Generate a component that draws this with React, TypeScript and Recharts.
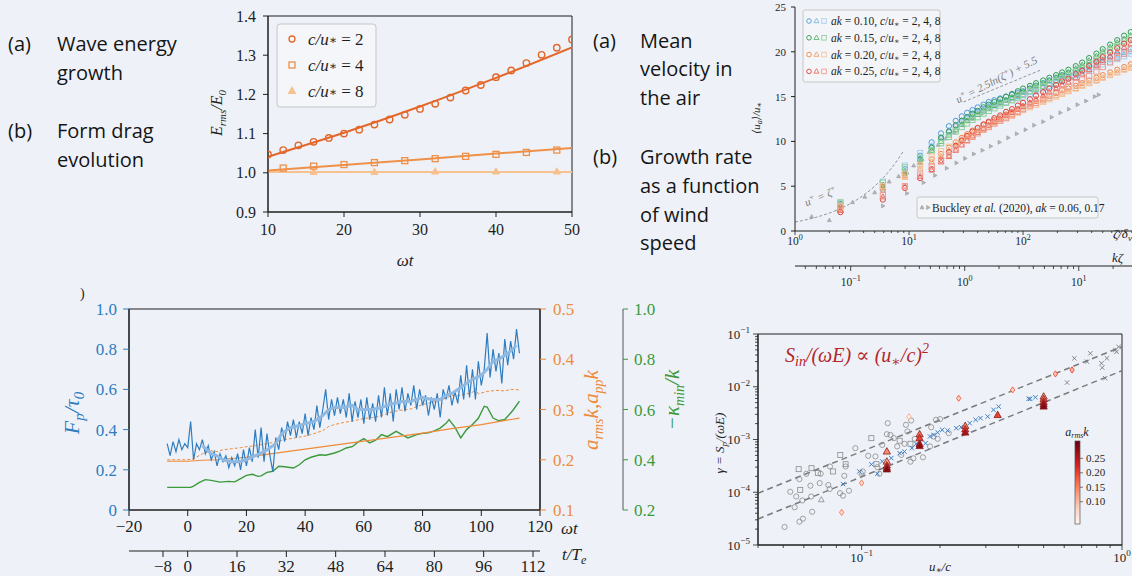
import React from 'react';
import { ComposedChart, Line, Scatter, XAxis, YAxis, ReferenceArea } from 'recharts';

const SERIF = '"Liberation Serif", "DejaVu Serif", serif';
const SANS = '"Open Sans", "Noto Sans", sans-serif';
const BG = '#eef2f8';
const INK = '#1e1e1e';

// ============================================
// (a) wave energy growth, E_rms/E_0 vs wt
// ============================================

const energyT2 = [10, 12, 14, 16, 18, 20, 22, 24, 26, 28, 30, 32, 34, 36, 38, 40, 42, 44, 46, 48, 50];
const energy2 = [1.047, 1.058, 1.07, 1.079, 1.089, 1.1, 1.11, 1.123, 1.136, 1.148, 1.163, 1.176, 1.192, 1.21, 1.224, 1.244, 1.261, 1.28, 1.301, 1.319, 1.34];
const energyT4 = [12, 16, 20, 24, 28, 32, 36, 40, 44, 48];
const energy4 = [1.012, 1.017, 1.021, 1.026, 1.031, 1.036, 1.042, 1.047, 1.052, 1.058];
const energyT8 = [16, 24, 32, 40, 48];
const energy8 = [1.002, 1.002, 1.003, 1.003, 1.003];
const fitT = [10, 20, 30, 40, 50];
const fit2 = [1.041, 1.102, 1.169, 1.242, 1.32];
const fit4 = [1.006, 1.02, 1.034, 1.049, 1.063];
const fit8 = [1.002, 1.002, 1.002, 1.002, 1.002];
const energyXTicks = [10, 20, 30, 40, 50];
const energyYTicks = [0.9, 1.0, 1.1, 1.2, 1.3, 1.4];
const energyLegend = ['2', '4', '8'];

// ============================================
// Mean velocity profile <u_a>/u_* vs zeta/delta_nu
// ============================================

const zetaGrid = [2.5, 5.9, 9.2, 12.5, 15.8, 19.1, 22.4, 25.7, 29, 32.3, 36, 40, 45, 50, 56, 63, 71, 80, 90, 100, 115, 130, 150, 170, 195, 220, 250, 290, 330, 380, 440, 500, 580, 670, 770, 880];

const ak10c2 = [2.7, 4.6, 6.9, 8.4, 9.9, 10.9, 11.7, 12.3, 12.8, 13.2, 13.5, 13.8, 14.1, 14.4, 14.6, 14.8, 15.0, 15.2, 15.4, 15.6, 15.9, 16.2, 16.5, 16.8, 17.1, 17.4, 17.6, 17.9, 18.2, 18.5, 18.8, 19.1, 19.4, 19.7, 20.0, 20.3];
const ak10c4 = [2.9, 5.0, 6.7, 8.0, 9.4, 10.4, 11.2, 11.8, 12.3, 12.7, 13.0, 13.3, 13.6, 13.9, 14.1, 14.4, 14.6, 14.8, 15.0, 15.2, 15.5, 15.8, 16.1, 16.4, 16.7, 17.0, 17.3, 17.6, 17.9, 18.2, 18.5, 18.8, 19.1, 19.4, 19.7, 20.0];
const ak10c8 = [3.1, 5.5, 7.3, 8.7, 9.5, 10.4, 11.0, 11.6, 12.1, 12.5, 12.8, 13.1, 13.4, 13.7, 14.0, 14.2, 14.4, 14.6, 14.8, 15.0, 15.3, 15.6, 15.9, 16.2, 16.5, 16.8, 17.1, 17.4, 17.7, 18.0, 18.3, 18.6, 18.9, 19.2, 19.5, 19.8];
const ak15c2 = [3.0, 5.1, 6.4, 8.0, 9.3, 10.4, 11.1, 11.8, 12.3, 12.7, 13.1, 13.4, 13.8, 14.1, 14.4, 14.7, 15.0, 15.3, 15.6, 15.9, 16.2, 16.5, 16.8, 17.1, 17.4, 17.7, 18.0, 18.4, 18.8, 19.3, 19.8, 20.3, 20.8, 21.3, 21.8, 22.2];
const ak15c4 = [2.8, 4.9, 6.6, 7.7, 9.0, 10.0, 10.7, 11.3, 11.9, 12.3, 12.7, 13.0, 13.4, 13.7, 14.0, 14.3, 14.6, 14.9, 15.2, 15.5, 15.9, 16.2, 16.5, 16.8, 17.1, 17.4, 17.7, 18.1, 18.5, 19.0, 19.5, 20.0, 20.5, 21.0, 21.4, 21.8];
const ak15c8 = [3.2, 5.4, 7.1, 8.2, 9.0, 9.8, 10.5, 11.1, 11.6, 12.0, 12.4, 12.7, 13.1, 13.4, 13.7, 14.0, 14.3, 14.6, 14.9, 15.2, 15.6, 15.9, 16.2, 16.5, 16.8, 17.1, 17.4, 17.8, 18.2, 18.7, 19.2, 19.7, 20.2, 20.7, 21.2, 21.6];
const ak20c2 = [2.6, 4.9, 6.2, 7.3, 8.0, 8.6, 9.3, 9.9, 10.4, 10.8, 11.2, 11.5, 11.8, 12.1, 12.4, 12.7, 13.0, 13.3, 13.6, 13.9, 14.2, 14.5, 14.8, 15.1, 15.4, 15.7, 15.9, 16.2, 16.5, 16.8, 17.1, 17.4, 17.7, 18.0, 18.3, 18.6];
const ak20c4 = [2.4, 4.7, 6.0, 7.0, 7.7, 8.3, 9.0, 9.6, 10.1, 10.5, 10.9, 11.2, 11.5, 11.8, 12.1, 12.4, 12.7, 13.0, 13.3, 13.6, 13.9, 14.2, 14.5, 14.8, 15.1, 15.4, 15.6, 15.9, 16.2, 16.5, 16.8, 17.1, 17.4, 17.7, 18.0, 18.3];
const ak20c8 = [2.8, 5.0, 6.4, 7.4, 8.3, 8.9, 9.4, 9.8, 10.2, 10.5, 10.8, 11.1, 11.4, 11.7, 12.0, 12.3, 12.6, 12.9, 13.2, 13.5, 13.8, 14.1, 14.4, 14.7, 15.0, 15.3, 15.6, 15.9, 16.2, 16.5, 16.8, 17.1, 17.4, 17.7, 18.0, 18.2];
const ak25c2 = [2.1, 3.5, 4.8, 5.9, 6.9, 7.9, 8.8, 9.5, 10.1, 10.6, 11.1, 11.5, 11.9, 12.2, 12.6, 12.9, 13.3, 13.6, 14.0, 14.3, 14.7, 15.1, 15.5, 15.9, 16.3, 16.7, 17.0, 17.5, 17.9, 18.4, 18.9, 19.4, 19.9, 20.4, 20.9, 21.3];
const ak25c4 = [2.3, 3.8, 5.0, 6.1, 6.8, 7.7, 8.3, 9.0, 9.6, 10.1, 10.6, 11.0, 11.4, 11.8, 12.2, 12.5, 12.9, 13.2, 13.6, 13.9, 14.3, 14.7, 15.1, 15.5, 15.9, 16.3, 16.6, 17.1, 17.5, 18.0, 18.5, 19.0, 19.5, 20.0, 20.5, 20.9];
const ak25c8 = [2.6, 4.0, 5.0, 6.3, 7.2, 7.9, 8.5, 9.2, 9.7, 10.1, 10.5, 10.9, 11.3, 11.6, 12.0, 12.3, 12.6, 12.9, 13.3, 13.6, 14.0, 14.3, 14.7, 15.1, 15.5, 15.8, 16.1, 16.5, 16.9, 17.3, 17.8, 18.3, 18.8, 19.3, 19.8, 20.3];

const buckleyUpperX = [1.4, 2.0, 2.4, 3.2, 4.1, 5.0, 6.7, 8.1, 9.6, 11, 13, 15, 18, 21, 25, 30, 36, 43, 52, 62, 75, 90, 108, 130, 155, 185, 220, 265, 320];
const buckleyUpperY = [1.6, 1.2, 2.4, 3.2, 3.8, 4.3, 5.5, 6.1, 6.5, 7.3, 8.0, 8.8, 9.6, 10.3, 11.0, 11.8, 12.5, 13.1, 13.7, 14.2, 14.6, 15.0, 15.35, 15.6, 15.9, 16.2, 16.6, 17.1, 17.8];
const buckleyLowerX = [5.9, 9.6, 13.4, 16.9, 21.4, 26, 31, 37, 44, 52, 62, 74, 88, 105, 125, 150, 178, 212, 252, 300, 357, 425, 460];
const buckleyLowerY = [2.8, 4.2, 5.4, 6.2, 7.0, 7.6, 8.1, 8.6, 9.0, 9.45, 9.9, 10.4, 10.85, 11.3, 11.8, 12.2, 12.7, 13.2, 13.6, 14.1, 14.5, 15.0, 15.2];

const viscousX = [1, 1.5, 2, 3, 4, 5, 6, 7, 8, 9];
const viscousY = [1, 1.5, 2, 3, 4, 5, 6, 7, 8, 9];
const logLawX = [30, 145];
const logLawY = [14.4, 18.0];

const zetaTicks = [1, 2, 3, 4, 5, 6, 7, 8, 9, 10, 20, 30, 40, 50, 60, 70, 80, 90, 100, 200, 300, 400, 500, 600, 700, 800, 900];
const kzTicks = [0.04, 0.05, 0.06, 0.07, 0.08, 0.09, 0.1, 0.2, 0.3, 0.4, 0.5, 0.6, 0.7, 0.8, 0.9, 1, 2, 3, 4, 5, 6, 7, 8, 9, 10, 20];
const profileYTicks = [0, 5, 10, 15, 20, 25];
const akLabels = ['0.10', '0.15', '0.20', '0.25'];

// ============================================
// (b) form drag evolution vs wt
// ============================================

const fpTime = [-7, -6, -5, -4, -3, -2, -1, 0, 1, 2, 3, 4, 5, 6, 7, 8, 9, 10, 11, 12, 13, 14, 15, 16, 17, 18, 19, 20, 21, 22, 23, 24, 25, 26, 27, 28, 29, 30, 31, 32, 33, 34, 35, 36, 37, 38, 39, 40, 41, 42, 43, 44, 45, 46, 47, 48, 49, 50, 51, 52, 53, 54, 55, 56, 57, 58, 59, 60, 61, 62, 63, 64, 65, 66, 67, 68, 69, 70, 71, 72, 73, 74, 75, 76, 77, 78, 79, 80, 81, 82, 83, 84, 85, 86, 87, 88, 89, 90, 91, 92, 93, 94, 95, 96, 97, 98, 99, 100, 101, 102, 103, 104, 105, 106, 107, 108, 109, 110, 111, 112, 113];
const fpRaw = [0.33, 0.27, 0.34, 0.29, 0.35, 0.30, 0.33, 0.31, 0.44, 0.25, 0.33, 0.30, 0.35, 0.28, 0.32, 0.25, 0.29, 0.22, 0.28, 0.24, 0.27, 0.21, 0.26, 0.22, 0.28, 0.20, 0.30, 0.22, 0.31, 0.24, 0.40, 0.26, 0.41, 0.24, 0.38, 0.27, 0.19, 0.36, 0.30, 0.41, 0.34, 0.44, 0.37, 0.45, 0.36, 0.44, 0.38, 0.48, 0.37, 0.46, 0.40, 0.52, 0.41, 0.50, 0.60, 0.45, 0.55, 0.47, 0.56, 0.48, 0.55, 0.46, 0.58, 0.44, 0.54, 0.46, 0.55, 0.43, 0.56, 0.45, 0.53, 0.44, 0.57, 0.46, 0.61, 0.47, 0.58, 0.44, 0.60, 0.50, 0.61, 0.49, 0.58, 0.52, 0.62, 0.50, 0.60, 0.52, 0.57, 0.47, 0.56, 0.50, 0.58, 0.46, 0.60, 0.55, 0.62, 0.52, 0.59, 0.53, 0.67, 0.55, 0.72, 0.56, 0.70, 0.55, 0.74, 0.62, 0.70, 0.88, 0.66, 0.80, 0.69, 0.78, 0.63, 0.85, 0.72, 0.84, 0.75, 0.90, 0.78];
const fpSmoothTime = [5, 8, 10, 12, 15, 18, 20, 23, 26, 28, 30, 32, 35, 38, 40, 43, 46, 48, 50, 53, 56, 58, 60, 63, 66, 70, 73, 76, 80, 83, 86, 88, 90, 92, 95, 97, 100, 102, 104, 106, 108, 110, 112];
const fpSmooth = [0.32, 0.28, 0.27, 0.25, 0.24, 0.24, 0.25, 0.27, 0.29, 0.31, 0.33, 0.38, 0.41, 0.42, 0.43, 0.44, 0.47, 0.50, 0.51, 0.51, 0.52, 0.50, 0.50, 0.50, 0.51, 0.53, 0.54, 0.54, 0.56, 0.55, 0.55, 0.57, 0.58, 0.60, 0.63, 0.65, 0.67, 0.70, 0.74, 0.75, 0.77, 0.79, 0.82];
const appTime = [-7, 0, 2, 5, 8, 10, 12, 15, 18, 20, 23, 25, 28, 30, 33, 36, 40, 43, 46, 48, 50, 53, 56, 60, 63, 66, 70, 73, 76, 80, 83, 86, 90, 92, 95, 97, 98, 99, 102, 105, 108, 110, 113];
const appK = [0.200, 0.200, 0.202, 0.212, 0.218, 0.216, 0.220, 0.222, 0.224, 0.226, 0.228, 0.230, 0.233, 0.236, 0.240, 0.243, 0.247, 0.252, 0.258, 0.266, 0.270, 0.274, 0.277, 0.282, 0.284, 0.288, 0.296, 0.299, 0.301, 0.310, 0.314, 0.318, 0.328, 0.327, 0.331, 0.334, 0.342, 0.331, 0.336, 0.338, 0.337, 0.340, 0.339];
const armsTime = [-7, 0, 5, 10, 20, 30, 40, 50, 60, 70, 80, 90, 100, 113];
const armsK = [0.197, 0.197, 0.199, 0.200, 0.205, 0.213, 0.221, 0.229, 0.237, 0.245, 0.253, 0.262, 0.270, 0.283];
const kappaTime = [-7, 1, 2, 4, 6, 8, 11, 14, 16, 18, 20, 22, 24, 25, 27, 29, 31, 33, 36, 38, 40, 42, 45, 47, 50, 52, 54, 56, 58, 60, 62, 64, 66, 68, 71, 73, 75, 78, 80, 82, 84, 86, 88, 89, 91, 93, 95, 97, 99, 101, 102, 104, 106, 108, 110, 111, 113];
const kappaMin = [0.29, 0.29, 0.295, 0.31, 0.321, 0.318, 0.311, 0.314, 0.312, 0.325, 0.338, 0.342, 0.334, 0.336, 0.35, 0.354, 0.374, 0.372, 0.367, 0.38, 0.40, 0.41, 0.42, 0.418, 0.427, 0.435, 0.447, 0.452, 0.47, 0.484, 0.467, 0.478, 0.50, 0.492, 0.513, 0.50, 0.487, 0.50, 0.505, 0.507, 0.515, 0.526, 0.545, 0.56, 0.53, 0.487, 0.52, 0.54, 0.565, 0.613, 0.61, 0.566, 0.555, 0.56, 0.586, 0.60, 0.633];
const wtTicks = [-20, 0, 20, 40, 60, 80, 100, 120];
const teTicks = [-8, 0, 16, 32, 48, 64, 80, 96, 112];
const fpTicks = [0, 0.2, 0.4, 0.6, 0.8, 1.0];
const ampTicks = [0.1, 0.2, 0.3, 0.4, 0.5];
const kappaTicks = [0.2, 0.4, 0.6, 0.8, 1.0];

// ============================================
// (b) growth rate vs u_*/c
// ============================================

const greyCircleX = [0.0506, 0.0532, 0.0553, 0.0561, 0.0577, 0.0577, 0.0592, 0.0595, 0.0613, 0.0636, 0.064, 0.0646, 0.069, 0.0696, 0.0745, 0.0754, 0.0756, 0.0826, 0.0848, 0.0858, 0.0868, 0.0894, 0.0946, 0.101, 0.106, 0.113, 0.115, 0.117, 0.12, 0.125, 0.126, 0.129, 0.133, 0.137, 0.142, 0.146, 0.148, 0.15, 0.154, 0.155, 0.158, 0.16, 0.172, 0.183, 0.185, 0.189, 0.193, 0.196, 0.2, 0.216];
const greyCircleY = [2.2e-5, 1.02e-4, 5.2e-5, 8.3e-5, 1.77e-4, 2.77e-5, 7.0e-5, 3.15e-5, 2.24e-4, 1.33e-4, 8.3e-5, 4.27e-5, 1.49e-4, 2.24e-4, 1.37e-4, 1.15e-4, 3.08e-4, 9.6e-5, 8.6e-5, 2.05e-4, 3.08e-4, 1.07e-4, 6.85e-4, 2.48e-4, 4.9e-4, 4.77e-4, 2.99e-4, 2.24e-4, 7.9e-4, 1.26e-3, 2.04e-3, 1.22e-3, 1.06e-3, 7.4e-4, 5.1e-4, 8.3e-4, 1.9e-3, 1.42e-3, 3.8e-4, 2.29e-3, 4.4e-4, 1.03e-3, 4.6e-4, 7.4e-4, 1.71e-3, 1.14e-3, 2.36e-3, 1.03e-3, 2.43e-3, 1.32e-3];
const greySquareX = [0.0573, 0.0581, 0.0642, 0.0679, 0.0776, 0.0828, 0.0868, 0.109, 0.114, 0.154, 0.14];
const greySquareY = [2.74e-4, 1.11e-4, 2.86e-4, 2.31e-4, 2.48e-4, 5.1e-4, 3.41e-4, 1.06e-3, 3.41e-4, 8.3e-4, 9.5e-4];
const greyTriX = [0.07, 0.1];
const greyTriY = [7.2e-5, 2.3e-4];
const greyCrossX = [0.615, 0.656, 0.734, 0.756, 0.834, 0.84, 0.875, 0.942, 0.953, 0.862, 0.97];
const greyCrossY = [1.2e-2, 3.46e-2, 2.99e-2, 4.3e-2, 2.79e-2, 2.3e-2, 3.46e-2, 4.97e-2, 4.6e-2, 1.45e-2, 5.7e-2];
const blueCrossX = [0.0848, 0.098, 0.109, 0.115, 0.12, 0.13, 0.14, 0.146, 0.156, 0.162, 0.167, 0.176, 0.183, 0.189, 0.196, 0.204, 0.214, 0.231, 0.241, 0.26, 0.274, 0.286, 0.305, 0.321, 0.336, 0.438, 0.444, 0.465];
const blueCrossY = [1.43e-4, 2.48e-4, 3.37e-4, 2.24e-4, 3.84e-4, 4.44e-4, 5.5e-4, 5.9e-4, 6.85e-4, 8.3e-4, 9.2e-4, 8.5e-4, 1.14e-3, 1.22e-3, 1.36e-3, 1.52e-3, 1.48e-3, 1.64e-3, 1.71e-3, 2.04e-3, 2.36e-3, 2.54e-3, 2.72e-3, 3.65e-3, 4.2e-3, 5.9e-3, 5.9e-3, 6.3e-3];
const pinkX = [0.0838, 0.1, 0.152, 0.236, 0.38, 0.555, 0.643];
const pinkY = [4.15e-5, 1.5e-4, 2.7e-3, 6.05e-3, 8.7e-3, 1.75e-2, 2.08e-2];
const pinkAk = [0.1, 0.1, 0.06, 0.12, 0.12, 0.13, 0.14];
const redTriX = [0.125, 0.125, 0.125, 0.125, 0.125, 0.167, 0.167, 0.167, 0.167, 0.25, 0.25, 0.25, 0.333, 0.5, 0.5, 0.5, 0.5, 0.5];
const redTriY = [5.9e-4, 3.8e-4, 3.2e-4, 2.9e-4, 2.7e-4, 1.25e-3, 1.05e-3, 8.2e-4, 7.5e-4, 1.8e-3, 1.55e-3, 1.35e-3, 2.9e-3, 6.5e-3, 5.8e-3, 5.1e-3, 4.6e-3, 4.2e-3];
const redTriAk = [0.14, 0.12, 0.2, 0.25, 0.29, 0.16, 0.2, 0.24, 0.28, 0.14, 0.2, 0.26, 0.2, 0.12, 0.17, 0.22, 0.26, 0.29];
const fitUpperX = [0.04, 1];
const fitUpperY = [9.6e-5, 5.75e-2];
const fitLowerX = [0.04, 1];
const fitLowerY = [3.1e-5, 2.02e-2];
const gammaXTicks = [0.04, 0.05, 0.06, 0.07, 0.08, 0.09, 0.1, 0.2, 0.3, 0.4, 0.5, 0.6, 0.7, 0.8, 0.9, 1];
const gammaYTicks = [1e-5, 2e-5, 3e-5, 4e-5, 5e-5, 6e-5, 7e-5, 8e-5, 9e-5, 1e-4, 2e-4, 3e-4, 4e-4, 5e-4, 6e-4, 7e-4, 8e-4, 9e-4, 1e-3, 2e-3, 3e-3, 4e-3, 5e-3, 6e-3, 7e-3, 8e-3, 9e-3, 1e-2, 2e-2, 3e-2, 4e-2, 5e-2, 6e-2, 7e-2, 8e-2, 9e-2, 1e-1];
const cbarTicks = [0.1, 0.15, 0.2, 0.25];

// ============================================
// Helpers
// ============================================

const zip = (xs: number[], ys: number[]) => xs.map((x, i) => ({ x, y: ys[i] }));
const minus = (v: number) => (v < 0 ? '\u2212' + Math.abs(v) : String(v));

const REDS: [number, string][] = [
  [0.02, '#fff5f0'],
  [0.08, '#fdd0bc'],
  [0.13, '#fc9a7a'],
  [0.18, '#f7593f'],
  [0.23, '#d21f20'],
  [0.31, '#67000d'],
];

function redsColor(v: number) {
  const hex = (h: string) => [1, 3, 5].map((i) => parseInt(h.slice(i, i + 2), 16));
  for (let i = 1; i < REDS.length; i++) {
    if (v <= REDS[i][0]) {
      const t = Math.max(0, (v - REDS[i - 1][0]) / (REDS[i][0] - REDS[i - 1][0]));
      const a = hex(REDS[i - 1][1]);
      const b = hex(REDS[i][1]);
      return `rgb(${a.map((c, k) => Math.round(c + (b[k] - c) * t)).join(',')})`;
    }
  }
  return REDS[REDS.length - 1][1];
}

type MarkerKind = 'circle' | 'square' | 'triangle' | 'triRight' | 'diamond' | 'cross';

function Marker({ kind, cx, cy, r, stroke, fill = 'none', sw = 1 }: { kind: MarkerKind; cx: number; cy: number; r: number; stroke: string; fill?: string; sw?: number }) {
  switch (kind) {
    case 'circle':
      return <circle cx={cx} cy={cy} r={r} fill={fill} stroke={stroke} strokeWidth={sw} />;
    case 'square':
      return <rect x={cx - r} y={cy - r} width={2 * r} height={2 * r} fill={fill} stroke={stroke} strokeWidth={sw} />;
    case 'triangle':
      return <polygon points={`${cx},${cy - r * 1.2} ${cx - r * 1.1},${cy + r * 0.75} ${cx + r * 1.1},${cy + r * 0.75}`} fill={fill} stroke={stroke} strokeWidth={sw} />;
    case 'triRight':
      return <polygon points={`${cx + r * 1.2},${cy} ${cx - r * 0.75},${cy - r * 1.1} ${cx - r * 0.75},${cy + r * 1.1}`} fill={fill} stroke={stroke} strokeWidth={sw} />;
    case 'diamond':
      return <polygon points={`${cx},${cy - r * 1.3} ${cx + r * 0.9},${cy} ${cx},${cy + r * 1.3} ${cx - r * 0.9},${cy}`} fill={fill} stroke={stroke} strokeWidth={sw} />;
    default:
      return <path d={`M${cx - r},${cy - r}L${cx + r},${cy + r}M${cx - r},${cy + r}L${cx + r},${cy - r}`} fill="none" stroke={stroke} strokeWidth={sw} />;
  }
}

const dot = (kind: MarkerKind, r: number, stroke: string, fill = 'none', sw = 1) => (p: any) => (
  <Marker kind={kind} cx={p.cx} cy={p.cy} r={r} stroke={stroke} fill={fill} sw={sw} />
);

// log-axis tick with minor ticks and 10^n labels
function LogTick(props: any) {
  const { x, y, payload, side, fs, major, minor, gap } = props;
  const v = payload.value;
  const e = Math.round(Math.log10(v));
  const isMajor = Math.abs(Math.log10(v) - e) < 1e-6;
  const len = isMajor ? major : minor;
  const exp = e < 0 ? '\u2212' + -e : String(e);
  if (side === 'bottom') {
    return (
      <g>
        <line x1={x} x2={x} y1={y} y2={y + len} stroke={INK} strokeWidth={0.8} />
        {isMajor && (
          <text x={x} y={y + len + gap + fs * 0.75} textAnchor="middle" fontSize={fs} fontFamily={SERIF} fill={INK}>
            10<tspan dy={-fs * 0.42} fontSize={fs * 0.7}>{exp}</tspan>
          </text>
        )}
      </g>
    );
  }
  return (
    <g>
      <line x1={x} x2={x - len} y1={y} y2={y} stroke={INK} strokeWidth={0.8} />
      {isMajor && (
        <text x={x - len - gap} y={y + fs * 0.35} textAnchor="end" fontSize={fs} fontFamily={SERIF} fill={INK}>
          10<tspan dy={-fs * 0.42} fontSize={fs * 0.7}>{exp}</tspan>
        </text>
      )}
    </g>
  );
}

// ============================================
// Charts
// ============================================

const E_COLORS = ['#e4672a', '#ef9048', '#f6c18e'];

function EnergyChart() {
  const tick = { fill: INK, fontSize: 16, fontFamily: SERIF };
  return (
    <ComposedChart width={400} height={270} margin={{ top: 16, right: 28, bottom: 0, left: 18 }}>
      <XAxis type="number" dataKey="x" domain={[10, 50]} ticks={energyXTicks} interval={0} allowDataOverflow height={58} tickSize={5} tickMargin={7} stroke={INK} tick={tick} />
      <YAxis type="number" dataKey="y" domain={[0.9, 1.4]} ticks={energyYTicks} interval={0} allowDataOverflow width={50} tickSize={5} tickMargin={7} stroke={INK} tick={tick} tickFormatter={(v: number) => v.toFixed(1)} />
      <ReferenceArea x1={10} x2={50} y1={0.9} y2={1.4} fill="none" stroke={INK} strokeWidth={1} />
      <Line data={zip(fitT, fit8)} dataKey="y" type="monotone" stroke={E_COLORS[2]} strokeWidth={2} dot={false} isAnimationActive={false} />
      <Line data={zip(fitT, fit4)} dataKey="y" type="monotone" stroke={E_COLORS[1]} strokeWidth={2} dot={false} isAnimationActive={false} />
      <Line data={zip(fitT, fit2)} dataKey="y" type="monotone" stroke={E_COLORS[0]} strokeWidth={2} dot={false} isAnimationActive={false} />
      <Scatter data={zip(energyT8, energy8)} dataKey="y" shape={dot('triangle', 3.2, E_COLORS[2], E_COLORS[2])} isAnimationActive={false} />
      <Scatter data={zip(energyT4, energy4)} dataKey="y" shape={dot('square', 3, E_COLORS[1], 'none', 1.3)} isAnimationActive={false} />
      <Scatter data={zip(energyT2, energy2)} dataKey="y" shape={dot('circle', 3.2, E_COLORS[0], 'none', 1.4)} isAnimationActive={false} />
    </ComposedChart>
  );
}

const GROUP_COLORS = [
  ['#4d9bd8', '#7ab5e2', '#a8cfee'],
  ['#2f9a4c', '#5db771', '#8ecf9a'],
  ['#ee8443', '#f3a46c', '#f7c39a'],
  ['#e0413a', '#e96c5f', '#f09b8e'],
];
const PROFILE_SERIES = [
  [ak10c2, ak10c4, ak10c8],
  [ak15c2, ak15c4, ak15c8],
  [ak20c2, ak20c4, ak20c8],
  [ak25c2, ak25c4, ak25c8],
];
const SHAPES: MarkerKind[] = ['circle', 'triangle', 'square'];

// secondary bottom axes are declared first (id "b") so the main axis ("a") sits on the plot
function ProfileChart() {
  const yTick = { fill: INK, fontSize: 11, fontFamily: SERIF };
  return (
    <ComposedChart width={392} height={300} margin={{ top: 7, right: 0, bottom: 0, left: 15 }}>
      <XAxis xAxisId="b" type="number" dataKey="x" scale="log" domain={[0.0325, 29.3]} allowDataOverflow ticks={kzTicks} interval={0} height={34} tickSize={0} tickMargin={0} tickLine={false} stroke={INK}
        tick={(p: any) => <LogTick {...p} side="bottom" fs={11.5} major={5} minor={3} gap={6} />} />
      <XAxis xAxisId="a" type="number" dataKey="x" scale="log" domain={[1, 903]} allowDataOverflow ticks={zetaTicks} interval={0} height={35} tickSize={0} tickMargin={0} tickLine={false} stroke={INK}
        tick={(p: any) => <LogTick {...p} side="bottom" fs={11.5} major={4} minor={2} gap={1} />} />
      <YAxis yAxisId="u" type="number" dataKey="y" domain={[0, 25]} ticks={profileYTicks} interval={0} allowDataOverflow width={40} tickSize={4} tickMargin={5} stroke={INK} tick={yTick} />
      <Line xAxisId="b" yAxisId="u" data={kzTicks.map((x) => ({ x }))} dataKey="y" stroke="none" dot={false} isAnimationActive={false} />
      <Line xAxisId="a" yAxisId="u" data={zip(viscousX, viscousY)} dataKey="y" type="monotone" stroke="#8a8a8a" strokeWidth={0.9} strokeDasharray="3 2" dot={false} isAnimationActive={false} />
      <Line xAxisId="a" yAxisId="u" data={zip(logLawX, logLawY)} dataKey="y" stroke="#8a8a8a" strokeWidth={0.9} strokeDasharray="3 2" dot={false} isAnimationActive={false} />
      <Scatter xAxisId="a" yAxisId="u" data={zip(buckleyUpperX, buckleyUpperY)} dataKey="y" shape={dot('triangle', 1.8, '#9a9a9a', '#b5b5b5', 0.6)} isAnimationActive={false} />
      <Scatter xAxisId="a" yAxisId="u" data={zip(buckleyLowerX, buckleyLowerY)} dataKey="y" shape={dot('triRight', 1.8, '#9a9a9a', '#b5b5b5', 0.6)} isAnimationActive={false} />
      {PROFILE_SERIES.map((group, g) =>
        group.map((ys, s) => (
          <Scatter key={`p-${g}-${s}`} xAxisId="a" yAxisId="u" data={zip(zetaGrid, ys)} dataKey="y" shape={dot(SHAPES[s], 2.6, GROUP_COLORS[g][s], 'none', 1)} isAnimationActive={false} />
        )),
      )}
    </ComposedChart>
  );
}

const BLUE = '#2f7cbf';
const ORANGE = '#ef8a3a';
const GREEN = '#3a9a3c';

function DragChart() {
  const tick = { fill: INK, fontSize: 17, fontFamily: SERIF };
  return (
    <ComposedChart width={610} height={286} margin={{ top: 19, right: 7, bottom: 0, left: 4 }}>
      <XAxis xAxisId="b" type="number" dataKey="x" domain={[-19.03, 114.27]} ticks={teTicks} interval={0} allowDataOverflow height={25} tickSize={6} tickMargin={3} stroke={INK} tick={tick} tickFormatter={minus} />
      <XAxis xAxisId="a" type="number" dataKey="x" domain={[-20, 120]} ticks={wtTicks} interval={0} allowDataOverflow height={41} tickSize={6} tickMargin={4} stroke={INK} tick={tick} tickFormatter={minus} />
      <YAxis yAxisId="fp" orientation="left" type="number" domain={[0, 1]} ticks={fpTicks} interval={0} allowDataOverflow width={45} tickSize={6} tickMargin={6}
        axisLine={{ stroke: INK }} tickLine={{ stroke: BLUE }} tick={{ ...tick, fill: BLUE }} tickFormatter={(v: number) => (v === 0 ? '0' : v.toFixed(1))} />
      <YAxis yAxisId="amp" orientation="right" type="number" domain={[0.1, 0.5]} ticks={ampTicks} interval={0} allowDataOverflow width={83} tickSize={6} tickMargin={7}
        axisLine={{ stroke: INK }} tickLine={{ stroke: ORANGE }} tick={{ ...tick, fill: ORANGE }} tickFormatter={(v: number) => v.toFixed(1)} />
      <YAxis yAxisId="kap" orientation="right" type="number" domain={[0.2, 1]} ticks={kappaTicks} interval={0} allowDataOverflow width={60} tickSize={5} tickMargin={6}
        axisLine={{ stroke: '#555' }} tickLine={{ stroke: GREEN }} tick={{ ...tick, fill: GREEN }} tickFormatter={(v: number) => v.toFixed(1)} />
      <ReferenceArea xAxisId="a" yAxisId="fp" x1={-20} x2={120} y1={0} y2={1} fill="none" stroke={INK} strokeWidth={1.2} />
      <Line xAxisId="b" yAxisId="fp" data={teTicks.map((x) => ({ x }))} dataKey="y" stroke="none" dot={false} isAnimationActive={false} />
      <Line xAxisId="a" yAxisId="kap" data={zip(kappaTime, kappaMin)} dataKey="y" stroke={GREEN} strokeWidth={1.4} dot={false} isAnimationActive={false} />
      <Line xAxisId="a" yAxisId="amp" data={zip(armsTime, armsK)} dataKey="y" stroke={ORANGE} strokeWidth={1.2} dot={false} isAnimationActive={false} />
      <Line xAxisId="a" yAxisId="amp" data={zip(appTime, appK)} dataKey="y" stroke={ORANGE} strokeWidth={1} strokeDasharray="3 2" dot={false} isAnimationActive={false} />
      <Line xAxisId="a" yAxisId="fp" data={zip(fpTime, fpRaw)} dataKey="y" stroke={BLUE} strokeWidth={1.2} dot={false} isAnimationActive={false} />
      <Line xAxisId="a" yAxisId="fp" data={zip(fpSmoothTime, fpSmooth)} dataKey="y" stroke="#8fb9e0" strokeWidth={3} dot={false} isAnimationActive={false} />
    </ComposedChart>
  );
}

function GrowthChart() {
  return (
    <ComposedChart width={432} height={256} margin={{ top: 14, right: 10, bottom: 0, left: 8 }}>
      <XAxis type="number" dataKey="x" scale="log" domain={[0.04, 1]} allowDataOverflow ticks={gammaXTicks} interval={0} height={31} tickSize={0} tickMargin={0} tickLine={false} stroke={INK}
        tick={(p: any) => <LogTick {...p} side="bottom" fs={13} major={5} minor={3} gap={2} />} />
      <YAxis type="number" dataKey="y" scale="log" domain={[1e-5, 1e-1]} allowDataOverflow ticks={gammaYTicks} interval={0} width={50} tickSize={0} tickMargin={0} tickLine={false} stroke={INK}
        tick={(p: any) => <LogTick {...p} side="left" fs={13} major={5} minor={3} gap={3} />} />
      <ReferenceArea x1={0.04} x2={1} y1={1e-5} y2={1e-1} fill="none" stroke={INK} strokeWidth={1} />
      <Line data={zip(fitUpperX, fitUpperY)} dataKey="y" stroke="#7a7a7a" strokeWidth={1.5} strokeDasharray="6 4" dot={false} isAnimationActive={false} />
      <Line data={zip(fitLowerX, fitLowerY)} dataKey="y" stroke="#7a7a7a" strokeWidth={1.5} strokeDasharray="6 4" dot={false} isAnimationActive={false} />
      <Scatter data={zip(greyCircleX, greyCircleY)} dataKey="y" shape={dot('circle', 2.6, '#8a8a8a', 'none', 0.8)} isAnimationActive={false} />
      <Scatter data={zip(greySquareX, greySquareY)} dataKey="y" shape={dot('square', 2.5, '#8a8a8a', 'none', 0.8)} isAnimationActive={false} />
      <Scatter data={zip(greyTriX, greyTriY)} dataKey="y" shape={dot('triangle', 2.6, '#8a8a8a', 'none', 0.8)} isAnimationActive={false} />
      <Scatter data={zip(greyCrossX, greyCrossY)} dataKey="y" shape={dot('cross', 2.2, '#7a7a7a', 'none', 0.9)} isAnimationActive={false} />
      <Scatter data={zip(blueCrossX, blueCrossY)} dataKey="y" shape={dot('cross', 2.2, '#3a7fc4', 'none', 1)} isAnimationActive={false} />
      <Scatter data={pinkX.map((x, i) => ({ x, y: pinkY[i], ak: pinkAk[i] }))} dataKey="y" isAnimationActive={false}
        shape={(p: any) => <Marker kind="diamond" cx={p.cx} cy={p.cy} r={2.4} stroke={redsColor(p.payload.ak + 0.06)} fill={redsColor(p.payload.ak - 0.04)} sw={0.9} />} />
      <Scatter data={redTriX.map((x, i) => ({ x, y: redTriY[i], ak: redTriAk[i] }))} dataKey="y" isAnimationActive={false}
        shape={(p: any) => <Marker kind="triangle" cx={p.cx} cy={p.cy} r={3.3} stroke="#8b1a1a" fill={redsColor(p.payload.ak)} sw={0.8} />} />
    </ComposedChart>
  );
}

// ============================================
// Text, legends and annotations
// ============================================

function Overlay() {
  const cbTop = 441;
  const cbH = 83;
  const cbLo = 0.023;
  const cbHi = 0.31;
  const cbY = (v: number) => cbTop + cbH - ((v - cbLo) / (cbHi - cbLo)) * cbH;
  const slide = { fontFamily: SANS, fontSize: 20, fill: '#151515' };
  const it = { fontFamily: SERIF, fontStyle: 'italic' as const };
  return (
    <svg width={1132} height={576} style={{ position: 'absolute', left: 0, top: 0, pointerEvents: 'none' }}>
      <defs>
        <linearGradient id="redsBar" x1="0" y1="1" x2="0" y2="0">
          {REDS.map(([v, c]) => (
            <stop key={v} offset={(v - cbLo) / (cbHi - cbLo)} stopColor={c} />
          ))}
        </linearGradient>
      </defs>

      {/* slide captions */}
      <g {...slide}>
        <text x={8} y={51}>(a)</text>
        <text x={57} y={51}>Wave energy</text>
        <text x={57} y={80}>growth</text>
        <text x={8} y={138}>(b)</text>
        <text x={57} y={138}>Form drag</text>
        <text x={57} y={167}>evolution</text>
        <text x={593} y={48}>(a)</text>
        <text x={640} y={48}>Mean</text>
        <text x={640} y={76}>velocity in</text>
        <text x={640} y={105}>the air</text>
        <text x={593} y={164}>(b)</text>
        <text x={640} y={164}>Growth rate</text>
        <text x={640} y={193}>as a function</text>
        <text x={640} y={222}>of wind</text>
        <text x={640} y={250}>speed</text>
      </g>

      {/* energy chart labels + legend */}
      <text transform="translate(222,113) rotate(-90)" textAnchor="middle" fontSize={16} fill={INK} {...it}>
        E<tspan fontSize={11} dy={4}>rms</tspan><tspan dy={-4}>/E</tspan><tspan fontSize={11} dy={4}>0</tspan>
      </text>
      <text x={405} y={266} textAnchor="middle" fontSize={17} fill={INK} {...it}>ωt</text>
      <rect x={277} y={24} width={99} height={83} rx={3} fill="#f4f6fa" stroke="#c6c6c6" strokeWidth={1} />
      {energyLegend.map((c, i) => (
        <g key={c}>
          <Marker kind={(['circle', 'square', 'triangle'] as MarkerKind[])[i]} cx={292} cy={39 + i * 26} r={3} stroke={E_COLORS[i]} fill={i === 2 ? E_COLORS[2] : 'none'} sw={1.3} />
          <text x={308} y={45 + i * 26} fontSize={17} fill={INK} {...it}>
            c/u<tspan fontSize={12} dy={-1}>∗</tspan><tspan dy={1} fontStyle="normal"> = {c}</tspan>
          </text>
        </g>
      ))}

      {/* profile chart labels, legends, annotations */}
      <text transform="translate(760,118) rotate(-90)" textAnchor="middle" fontSize={11} fill={INK} {...it}>
        ⟨u<tspan fontSize={8} dy={2}>a</tspan><tspan dy={-2}>⟩/u</tspan><tspan fontSize={8} dy={2}>∗</tspan>
      </text>
      <text x={1113} y={238} fontSize={13} fill={INK} {...it}>ζ/δ<tspan fontSize={9} dy={3}>ν</tspan></text>
      <text x={1112} y={262} fontSize={13} fill={INK} {...it}>kζ</text>
      <text transform="translate(822,200) rotate(-23)" textAnchor="middle" fontSize={11} fill="#7a7a7a" {...it}>
        u<tspan fontSize={8} dy={-4}>+</tspan><tspan dy={4}> = ζ</tspan><tspan fontSize={8} dy={-4}>+</tspan>
      </text>
      <text transform="translate(998,83) rotate(-27)" textAnchor="middle" fontSize={11} fill="#7a7a7a" {...it}>
        u<tspan fontSize={8} dy={-4}>+</tspan><tspan dy={4}> = 2.5ln(ζ</tspan><tspan fontSize={8} dy={-4}>+</tspan><tspan dy={4}>) + 5.5</tspan>
      </text>
      <rect x={803} y={10} width={137} height={72} rx={2} fill="#f3f5f9" stroke="#c6c6c6" strokeWidth={1} />
      {akLabels.map((a, g) => (
        <g key={a}>
          {SHAPES.map((s, k) => (
            <Marker key={s} kind={s} cx={809 + k * 7.5} cy={21 + g * 16.8} r={2.3} stroke={GROUP_COLORS[g][k]} sw={0.9} />
          ))}
          <text x={831} y={25 + g * 16.8} fontSize={11.5} fill={INK} fontFamily={SERIF}>
            <tspan fontStyle="italic">ak</tspan> = {a}, <tspan fontStyle="italic">c</tspan>/<tspan fontStyle="italic">u</tspan>
            <tspan fontSize={8} dy={2}>∗</tspan><tspan dy={-2}> = 2, 4, 8</tspan>
          </text>
        </g>
      ))}
      <rect x={917} y={197} width={181} height={21} rx={2} fill="#f3f5f9" stroke="#c6c6c6" strokeWidth={1} />
      <Marker kind="triangle" cx={922} cy={207.5} r={1.8} stroke="#9a9a9a" fill="#b5b5b5" sw={0.6} />
      <Marker kind="triRight" cx={928} cy={207.5} r={1.8} stroke="#9a9a9a" fill="#b5b5b5" sw={0.6} />
      <text x={932} y={211.5} fontSize={11.5} fill={INK} fontFamily={SERIF}>
        Buckley <tspan fontStyle="italic">et al.</tspan> (2020), <tspan fontStyle="italic">ak</tspan> = 0.06, 0.17
      </text>

      {/* drag chart labels */}
      <text x={80} y={298} fontSize={14} fill={INK} fontFamily={SERIF}>)</text>
      <text transform="translate(79,413) rotate(-90)" textAnchor="middle" fontSize={22} fill={BLUE} {...it}>
        F<tspan fontSize={15} dy={5}>p</tspan><tspan dy={-5}>/τ</tspan><tspan fontSize={15} dy={5}>0</tspan>
      </text>
      <text transform="translate(598,410) rotate(-90)" textAnchor="middle" fontSize={21} fill={ORANGE} {...it}>
        a<tspan fontSize={14} dy={5}>rms</tspan><tspan dy={-5}>k,a</tspan><tspan fontSize={14} dy={5}>pp</tspan><tspan dy={-5}>k</tspan>
      </text>
      <text transform="translate(679,400) rotate(-90)" textAnchor="middle" fontSize={21} fill={GREEN} {...it}>
        −κ<tspan fontSize={14} dy={5}>min</tspan><tspan dy={-5}>/k</tspan>
      </text>
      <text x={561} y={534} fontSize={17} fill={INK} {...it}>ωt</text>
      <text x={562} y={560} fontSize={17} fill={INK} {...it}>t/T<tspan fontSize={12} dy={4}>e</tspan></text>

      {/* growth chart labels, annotation, colorbar */}
      <text transform="translate(724,443) rotate(-90)" textAnchor="middle" fontSize={13} fill={INK} {...it}>
        γ = S<tspan fontSize={9} dy={3}>p</tspan><tspan dy={-3}>/(ωE)</tspan>
      </text>
      <text x={940} y={571} textAnchor="middle" fontSize={13} fill={INK} {...it}>
        u<tspan fontSize={9} dy={2}>∗</tspan><tspan dy={-2}>/c</tspan>
      </text>
      <text x={785} y={362} fontSize={20} fill="#b3262a" {...it}>
        S<tspan fontSize={14} dy={4}>in</tspan><tspan dy={-4}>/(ωE) ∝ (u</tspan><tspan fontSize={14} dy={4}>∗</tspan><tspan dy={-4}>/c)</tspan><tspan fontSize={14} dy={-9}>2</tspan>
      </text>
      <text x={1077} y={436} textAnchor="middle" fontSize={12} fill={INK} {...it}>
        a<tspan fontSize={8} dy={2}>rms</tspan><tspan dy={-2}>k</tspan>
      </text>
      <rect x={1075} y={cbTop} width={5} height={cbH} fill="url(#redsBar)" stroke="#555" strokeWidth={0.7} />
      {cbarTicks.map((v) => (
        <g key={v}>
          <line x1={1080} x2={1083} y1={cbY(v)} y2={cbY(v)} stroke="#444" strokeWidth={0.7} />
          <text x={1086} y={cbY(v) + 3.5} fontSize={11} fill={INK} fontFamily={SERIF}>{v.toFixed(2)}</text>
        </g>
      ))}
    </svg>
  );
}

export default function App() {
  return (
    <div style={{ position: 'absolute', left: 0, top: 0, width: 1132, height: 576, background: BG, overflow: 'hidden', fontFamily: SERIF }}>
      <div style={{ position: 'absolute', left: 200, top: 0 }}>
        <EnergyChart />
      </div>
      <div style={{ position: 'absolute', left: 740, top: 0 }}>
        <ProfileChart />
      </div>
      <div style={{ position: 'absolute', left: 80, top: 290 }}>
        <DragChart />
      </div>
      <div style={{ position: 'absolute', left: 700, top: 320 }}>
        <GrowthChart />
      </div>
      <Overlay />
    </div>
  );
}
